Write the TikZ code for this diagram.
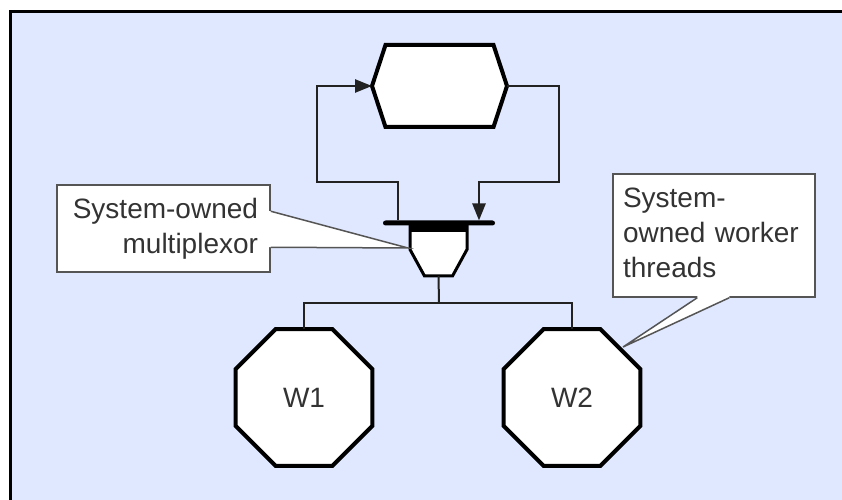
\documentclass[tikz,border=0pt]{standalone}
\usepackage{fontspec}
\setmainfont{Liberation Sans}
\usetikzlibrary{arrows.meta,shapes.geometric,calc}

\definecolor{panel}{HTML}{E0E8FF}
\definecolor{ink}{HTML}{333333}
\definecolor{wire}{HTML}{222222}
\definecolor{noteline}{HTML}{555555}

\begin{document}
\begin{tikzpicture}[x=1bp,y=-1bp,
  wire/.style={draw=wire,line width=2.5bp},
  wiretip/.style={wire,-{Triangle[length=17bp,width=13bp]}},
  tree/.style={draw=wire,line width=2bp},
  heavy/.style={draw=black,line width=4bp,line join=miter,fill=white},
  frame/.style={draw=none,inner sep=0bp,outer sep=0bp},
  worker/.style={regular polygon,regular polygon sides=8,minimum size=148bp,
    inner sep=0bp,outer sep=0bp,heavy,text=ink,font=\fontsize{28bp}{34.7bp}\selectfont},
  note/.style={draw=noteline,line width=1.5bp,fill=white,text=ink,inner sep=0bp,
    font=\fontsize{28bp}{34.7bp}\selectfont},
  pointer/.style={draw=noteline,line width=1.5bp,line join=miter},
]
\useasboundingbox (0,0) rectangle (842,500);
\fill[white] (0,0) rectangle (842,500);
% panel with a heavy rule along its top and left edges only
\fill[panel] (12,13) rectangle (842,500);
\fill[black] (9,10) rectangle (842,13);
\fill[black] (9,10) rectangle (12,500);

% hexagonal block at the top of the loop
\node[frame,minimum width=135bp,minimum height=82bp] (hex) at (439.5,86) {};
\draw[heavy] ([xshift=13.5bp]hex.north west) -- ([xshift=-13.5bp]hex.north east)
  -- (hex.east) -- ([xshift=-13.5bp]hex.south east)
  -- ([xshift=13.5bp]hex.south west) -- (hex.west) -- cycle;

% multiplexor body with its input bar
\node[frame,minimum width=57bp,minimum height=53bp] (mux) at (438.5,249.5) {};
\draw[draw=black,line width=3bp,line join=miter,fill=white]
  (mux.north west) -- (mux.north east) -- (mux.east)
  -- ([xshift=-14.5bp]mux.south east) -- ([xshift=14.5bp]mux.south west)
  -- (mux.west) -- cycle;
\fill[black] (mux.north west) rectangle ([yshift=-9bp]mux.north east);
\node[frame,fill=black,minimum width=112bp,minimum height=5bp,rounded corners=2.5bp] (bar) at (439,223) {};

% feedback loop
\coordinate (jl) at (398,182);
\coordinate (cl) at (317,182);
\coordinate (jr) at (479,182);
\coordinate (cr) at (559,182);
\draw[wiretip] (jl |- bar.north) -- (jl) -- (cl) |- (hex.west);
\draw[wiretip] (hex.east) -| (cr) -- (jr) -- (jr |- bar.north);

% worker threads
\node[worker] (w1) at (304,397.5) {W1};
\node[worker] (w2) at (572,397.5) {W2};
\coordinate (tee) at (439,303);
\draw[tree] (mux.south) -- (tee);
\draw[tree] (w1.north) |- (tee) -| (w2.north);

% callout: multiplexor
\node[note,text width=189bp,align=right,minimum width=213bp,minimum height=87bp]
  (n1) at (163.5,228.5) {System-owned\\multiplexor};
\coordinate (t1) at (408,248);
\fill[white] ([xshift=-2bp,yshift=-27bp]n1.north east) -- ([yshift=-27bp]n1.north east)
  -- (t1) -- ([yshift=-63bp]n1.north east) -- ([xshift=-2bp,yshift=-63bp]n1.north east) -- cycle;
\draw[pointer] ([yshift=-27bp]n1.north east) -- (t1) -- ([yshift=-63bp]n1.north east);

% callout: worker threads
\node[note,text width=182bp,align=left,minimum width=202bp,minimum height=123bp]
  (n2) at (714,235.5) {System-\\owned worker\\threads\vphantom{p}};
\coordinate (t2) at (623,347);
\fill[white] ([xshift=85bp,yshift=2bp]n2.south west) -- ([xshift=85bp]n2.south west)
  -- (t2) -- ([xshift=117bp]n2.south west) -- ([xshift=117bp,yshift=2bp]n2.south west) -- cycle;
\draw[pointer] ([xshift=85bp]n2.south west) -- (t2) -- ([xshift=117bp]n2.south west);
\end{tikzpicture}
\end{document}
